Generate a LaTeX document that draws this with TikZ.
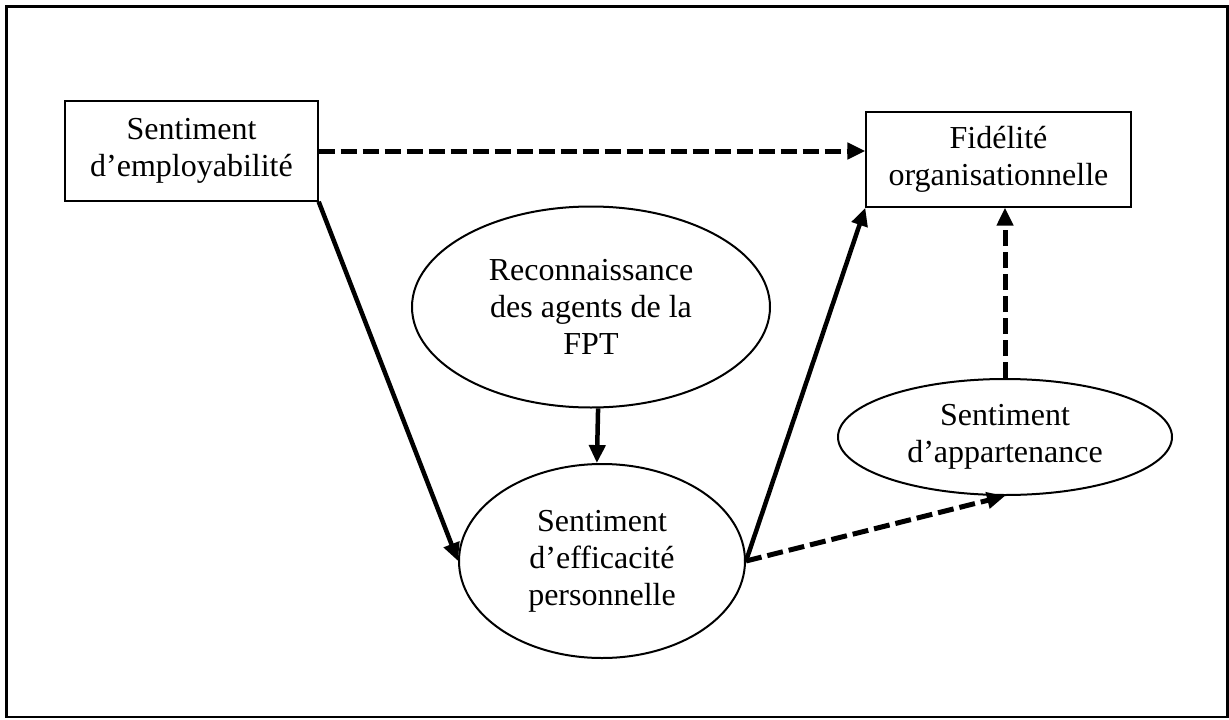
\documentclass[tikz,border=0pt]{standalone}
\usepackage{fontspec}
\setmainfont{Liberation Serif}
\usetikzlibrary{shapes.geometric,arrows.meta}
\begin{document}
\begin{tikzpicture}[x=1pt,y=-1pt,
  lbl/.style={align=center,font=\fontsize{32}{37}\selectfont,text=black},
  boxnode/.style={lbl,draw=black,line width=1.4pt,rectangle,inner sep=0pt},
  ellnode/.style={lbl,draw=black,line width=2pt,ellipse,inner sep=0pt},
  solidarrow/.style={line width=4.5pt,-{Triangle[length=18pt,width=16pt]}},
  dasharrow/.style={line width=5pt,dash pattern=on 16pt off 6pt,-{Triangle[length=18pt,width=16pt]}}
]
\useasboundingbox (0,0) rectangle (1229,720);
\draw[line width=2.2pt] (6.5,6.5) rectangle (1227.5,717);

\node[boxnode,minimum width=253pt,minimum height=100pt] (emp) at (191.5,151) {Sentiment\\d’employabilité};
\node[boxnode,minimum width=265pt,minimum height=95pt] (fid) at (998.5,159.5) {Fidélité\\organisationnelle};
\node[ellnode,minimum width=358pt,minimum height=201pt] (reco) at (591,307) {Reconnaissance\\des agents de la\\FPT};
\node[ellnode,minimum width=286pt,minimum height=194pt] (eff) at (602,561) {Sentiment\\d’efficacité\\personnelle};
\node[ellnode,minimum width=334pt,minimum height=116pt] (app) at (1005,437) {Sentiment\\d’appartenance};

\draw[dasharrow] (emp.east) -- (emp.east -| fid.west);
\draw[solidarrow] (emp.south east) -- (eff.west);
\draw[solidarrow] (reco.-86.5) -- (eff.93.5);
\draw[solidarrow] (eff.east) -- (fid.south west);
\draw[dasharrow] (eff.east) -- (app.south);
\draw[dasharrow] (app.north) -- (app.north |- fid.south);
\end{tikzpicture}
\end{document}
